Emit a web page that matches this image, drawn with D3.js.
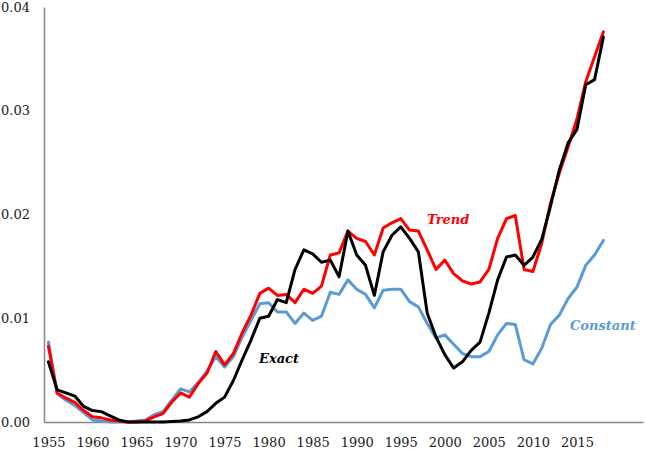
<!DOCTYPE html>
<html>
<head>
<meta charset="utf-8">
<script src="https://cdn.jsdelivr.net/npm/d3@7"></script>
<style>
  body { margin: 0; background: #fff; }
  svg { display: block; }
  svg text { font-family: 'DejaVu Serif', serif !important; }
</style>
</head>
<body>
<div class="svg-target"></div>
<script>
const w = 646;
const h = 450;

// data, 1955-2018
const years = d3.range(1955, 2019);
const tickYears = [1955, 1960, 1965, 1970, 1975, 1980, 1985, 1990, 1995, 2000, 2005, 2010, 2015];
const yTicks = [0, 0.01, 0.02, 0.03, 0.04];

const exact = [
    0.0058, 0.0031, 0.0028, 0.0025, 0.0015, 0.0011, 0.0010, 0.0006, 0.0002, 0.0000,
    0.0000, 0.0000, 0.0000, 0.0000, 0.00005, 0.0001, 0.0002, 0.0005, 0.0010, 0.0018,
    0.0024, 0.0040, 0.0060, 0.0079, 0.0100, 0.0102, 0.0118, 0.0115, 0.0147, 0.0166,
    0.0162, 0.0154, 0.0156, 0.0140, 0.0184, 0.0161, 0.0151, 0.0122, 0.0164, 0.0180,
    0.0188, 0.0177, 0.0164, 0.0105, 0.0082, 0.0065, 0.0052, 0.0058, 0.0069, 0.0077,
    0.0105, 0.0137, 0.0159, 0.0161, 0.0151, 0.0159, 0.0176, 0.0208, 0.0243, 0.0269,
    0.0282, 0.0325, 0.0330, 0.0371
];
const trend = [
    0.0073, 0.0028, 0.0023, 0.0019, 0.0011, 0.0005, 0.0004, 0.0002, 0.0001, 0.0000,
    0.0000, 0.0001, 0.0005, 0.0008, 0.0019, 0.0028, 0.0024, 0.0037, 0.0047, 0.0068,
    0.0055, 0.0066, 0.0086, 0.0103, 0.0124, 0.0129, 0.0122, 0.0123, 0.0115, 0.0128,
    0.0124, 0.0131, 0.0161, 0.0163, 0.0184, 0.0177, 0.0174, 0.0161, 0.0187, 0.0192,
    0.0196, 0.0185, 0.0184, 0.0166, 0.0147, 0.0156, 0.0143, 0.0136, 0.0133, 0.0135,
    0.0147, 0.0177, 0.0196, 0.0199, 0.0147, 0.0145, 0.0172, 0.0211, 0.0240, 0.0265,
    0.0292, 0.0328, 0.0352, 0.0376
];
const constant = [
    0.0077, 0.0027, 0.0021, 0.0016, 0.0009, 0.0002, 0.0001, 0.0000, 0.0000, 0.0000,
    0.0001, 0.0002, 0.0007, 0.0010, 0.0021, 0.0032, 0.0029, 0.0038, 0.0049, 0.0063,
    0.0053, 0.0063, 0.0082, 0.0098, 0.0114, 0.0115, 0.0106, 0.0106, 0.0095, 0.0105,
    0.0098, 0.0102, 0.0125, 0.0123, 0.0137, 0.0128, 0.0123, 0.0110, 0.0127, 0.0128,
    0.0128, 0.0116, 0.0111, 0.0095, 0.0081, 0.0084, 0.0075, 0.0066, 0.0063, 0.0063,
    0.0068, 0.0084, 0.0095, 0.0094, 0.0060, 0.0056, 0.0071, 0.0094, 0.0103, 0.0119,
    0.0130, 0.0151, 0.0161, 0.0175
];

const series = [
    { name: 'Constant', values: constant, color: '#5b9bd5', label: [570, 330] },
    { name: 'Trend', values: trend, color: '#ff0000', label: [427, 224] },
    { name: 'Exact', values: exact, color: '#000000', label: [259, 363] }
];

const svg = d3.select('.svg-target')
    .append('svg')
    .attr('width', w)
    .attr('height', h);

const xScale = d3.scaleLinear()
    .domain([1954.5, 2022.5])
    .range([44, 643]);

const yScale = d3.scaleLinear()
    .domain([0, 0.04])
    .range([422, 7]);

// y axis
const yAxis = d3.axisLeft(yScale)
    .tickValues(yTicks)
    .tickFormat(d3.format('.2f'))
    .tickSize(0)
    .tickPadding(14);

svg.append('g')
    .attr('transform', 'translate(44, 0)')
    .call(yAxis)
    .call(g => g.select('.domain').attr('stroke', '#868686').attr('stroke-width', 1.5))
    .call(g => g.selectAll('text').attr('font-size', 13).attr('fill', '#1a1a1a'));

// x axis
const xAxis = d3.axisBottom(xScale)
    .tickValues(tickYears)
    .tickFormat(d3.format('d'))
    .tickSize(0)
    .tickPadding(16);

svg.append('g')
    .attr('transform', 'translate(0, 422)')
    .call(xAxis)
    .call(g => g.select('.domain').attr('stroke', '#868686').attr('stroke-width', 1.5))
    .call(g => g.selectAll('text').attr('font-size', 13).attr('fill', '#1a1a1a'));

// lines
const line = d3.line()
    .x((d, i) => xScale(years[i]))
    .y(d => yScale(d));

svg.selectAll('.series')
    .data(series)
    .enter()
    .append('path')
        .attr('class', 'series')
        .attr('d', d => line(d.values))
        .attr('fill', 'none')
        .attr('stroke', d => d.color)
        .attr('stroke-width', 3)
        .attr('stroke-linejoin', 'round')
        .attr('stroke-linecap', 'round');

// series labels
svg.selectAll('.label')
    .data(series)
    .enter()
    .append('text')
        .attr('class', 'label')
        .attr('x', d => d.label[0])
        .attr('y', d => d.label[1])
        .attr('fill', d => d.color)
        .attr('font-size', 13)
        .attr('font-style', 'italic')
        .attr('font-weight', 'bold')
        .text(d => d.name);
</script>
</body>
</html>
